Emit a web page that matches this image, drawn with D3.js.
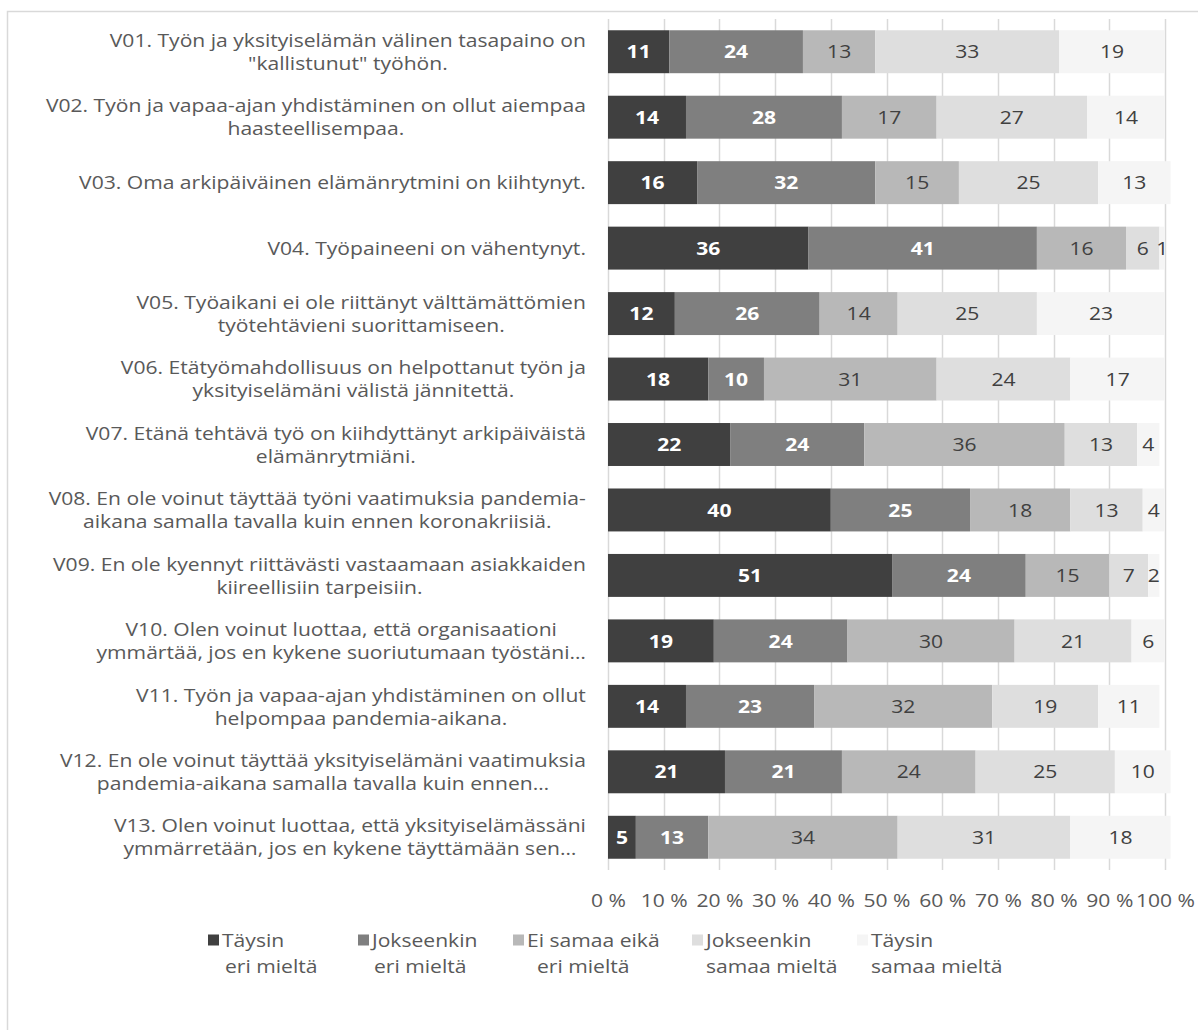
<!DOCTYPE html>
<html>
<head>
<meta charset="utf-8">
<script src="https://cdn.jsdelivr.net/npm/d3@7"></script>
<style>
  html, body { margin: 0; padding: 0; background: #fff; }
  svg { display: block; font-family: "Open Sans", "Noto Sans", sans-serif; }
</style>
</head>
<body>
<svg id="chart" width="1198" height="1030"></svg>
<script>
// Survey statements (wrapped lines as shown on the axis)
const categories = [
  ["V01. Työn ja yksityiselämän välinen tasapaino on", "\"kallistunut\" työhön."],
  ["V02. Työn ja vapaa-ajan yhdistäminen on ollut aiempaa", "haasteellisempaa."],
  ["V03. Oma arkipäiväinen elämänrytmini on kiihtynyt."],
  ["V04. Työpaineeni on vähentynyt."],
  ["V05. Työaikani ei ole riittänyt välttämättömien", "työtehtävieni suorittamiseen."],
  ["V06. Etätyömahdollisuus on helpottanut työn ja", "yksityiselämäni välistä jännitettä."],
  ["V07. Etänä tehtävä työ on kiihdyttänyt arkipäiväistä", "elämänrytmiäni."],
  ["V08. En ole voinut täyttää työni vaatimuksia pandemia-", "aikana samalla tavalla kuin ennen koronakriisiä."],
  ["V09. En ole kyennyt riittävästi vastaamaan asiakkaiden", "kiireellisiin tarpeisiin."],
  ["V10. Olen voinut luottaa, että organisaationi", "ymmärtää, jos en kykene suoriutumaan työstäni…"],
  ["V11. Työn ja vapaa-ajan yhdistäminen on ollut", "helpompaa pandemia-aikana."],
  ["V12. En ole voinut täyttää yksityiselämäni vaatimuksia", "pandemia-aikana samalla tavalla kuin ennen…"],
  ["V13. Olen voinut luottaa, että yksityiselämässäni", "ymmärretään, jos en kykene täyttämään sen…"]
];

// Response options (legend text, wrapped)
const seriesNames = [
  ["Täysin", "eri mieltä"],
  ["Jokseenkin", "eri mieltä"],
  ["Ei samaa eikä", "eri mieltä"],
  ["Jokseenkin", "samaa mieltä"],
  ["Täysin", "samaa mieltä"]
];

// Percentages per response option, one value per statement V01..V13
const taysinEri      = [11, 14, 16, 36, 12, 18, 22, 40, 51, 19, 14, 21, 5];
const jokseenkinEri  = [24, 28, 32, 41, 26, 10, 24, 25, 24, 24, 23, 21, 13];
const eiSamaaEika    = [13, 17, 15, 16, 14, 31, 36, 18, 15, 30, 32, 24, 34];
const jokseenkinSam  = [33, 27, 25, 6, 25, 24, 13, 13, 7, 21, 19, 25, 31];
const taysinSam      = [19, 14, 13, 1, 23, 17, 4, 4, 2, 6, 11, 10, 18];

const xTicks = [0, 10, 20, 30, 40, 50, 60, 70, 80, 90, 100];

const seriesValues = [taysinEri, jokseenkinEri, eiSamaaEika, jokseenkinSam, taysinSam];
const fills = ["#404040", "#7f7f7f", "#b8b8b8", "#dedede", "#f5f5f5"];
const labelFill = ["#ffffff", "#ffffff", "#404040", "#404040", "#404040"];
const labelWeight = ["bold", "bold", "normal", "normal", "normal"];
const textColor = "#595959";
const fontSize = 18.5;
const stretch = 1.14;   // widen glyphs horizontally

const svg = d3.select("#chart");

// place a text element at (x, y) with horizontal stretch
function placeText(sel, px, py) {
  return sel.attr("transform", `translate(${px},${py}) scale(${stretch},1)`);
}

// chart border
svg.append("rect")
  .attr("x", 7.5).attr("y", 11.5)
  .attr("width", 1300).attr("height", 1100)
  .attr("fill", "none").attr("stroke", "#d9d9d9").attr("stroke-width", 1.5);

const plot = { left: 608, right: 1165, top: 19, bottom: 870 };

const x = d3.scaleLinear().domain([0, 100]).range([plot.left, plot.right]);
const y = d3.scaleBand()
  .domain(d3.range(categories.length))
  .range([plot.top, plot.bottom])
  .paddingInner(0.344).paddingOuter(0.172);

// vertical gridlines
svg.append("g").selectAll("line")
  .data(xTicks)
  .join("line")
  .attr("x1", d => Math.round(x(d)) + 0.5).attr("x2", d => Math.round(x(d)) + 0.5)
  .attr("y1", plot.top).attr("y2", plot.bottom)
  .attr("stroke", "#d9d9d9").attr("stroke-width", 1.5);

// stacked bars
const rows = categories.map((c, i) => {
  let acc = 0;
  return seriesValues.map((vals, s) => {
    const seg = { row: i, s, x0: acc, x1: acc + vals[i], v: vals[i] };
    acc += vals[i];
    return seg;
  });
});
const segs = rows.flat();

svg.append("g").selectAll("rect")
  .data(segs)
  .join("rect")
  .attr("x", d => x(d.x0))
  .attr("y", d => y(d.row))
  .attr("width", d => x(d.x1) - x(d.x0))
  .attr("height", y.bandwidth())
  .attr("fill", d => fills[d.s]);

// value labels
svg.append("g").selectAll("text")
  .data(segs)
  .join("text")
  .each(function(d) {
    placeText(d3.select(this), (x(d.x0) + x(d.x1)) / 2, y(d.row) + y.bandwidth() / 2);
  })
  .attr("dy", "0.36em")
  .attr("text-anchor", "middle")
  .attr("font-size", fontSize)
  .attr("font-weight", d => labelWeight[d.s])
  .attr("fill", d => labelFill[d.s])
  .text(d => d.v);

// x axis tick labels
const xAxis = d3.axisBottom(x)
  .tickValues(xTicks)
  .tickFormat(d => d + " %")
  .tickSize(0)
  .tickPadding(0);
const gx = svg.append("g")
  .attr("transform", `translate(0,${plot.bottom})`)
  .call(xAxis);
gx.select(".domain").remove();
gx.selectAll("text")
  .attr("y", 0).attr("dy", "0.36em")
  .attr("transform", `translate(0,30) scale(${stretch},1)`)
  .attr("font-family", "\"Open Sans\", sans-serif")
  .attr("font-size", fontSize)
  .attr("fill", textColor);

// category labels: block right-aligned to the plot, lines centred in the block
const labelRight = 586;
const lineH = 23;
const catG = svg.append("g");
categories.forEach((lines, i) => {
  const cy = y(i) + y.bandwidth() / 2;
  const g = catG.append("g");
  const texts = lines.map(ln => g.append("text")
    .attr("font-size", fontSize)
    .attr("fill", textColor)
    .attr("text-anchor", "middle")
    .attr("dy", "0.36em")
    .text(ln));
  const maxW = d3.max(texts, t => t.node().getComputedTextLength()) * stretch;
  texts.forEach((t, k) =>
    placeText(t, labelRight - maxW / 2, cy + (k - (lines.length - 1) / 2) * lineH));
});

// legend
const legendX = [208, 358, 513, 692, 857];
const secondLineShift = [3, 2, 10, 0, 0];
const legend = svg.append("g").attr("transform", "translate(0,940)");
seriesNames.forEach((lines, s) => {
  const g = legend.append("g").attr("transform", `translate(${legendX[s]},0)`);
  g.append("rect")
    .attr("x", 0).attr("y", -5.5)
    .attr("width", 11).attr("height", 11)
    .attr("fill", fills[s]);
  lines.forEach((ln, k) => placeText(g.append("text"), 14 + (k ? secondLineShift[s] : 0), k * 26)
    .attr("dy", "0.36em")
    .attr("font-size", fontSize)
    .attr("fill", textColor)
    .text(ln));
});
</script>
</body>
</html>
